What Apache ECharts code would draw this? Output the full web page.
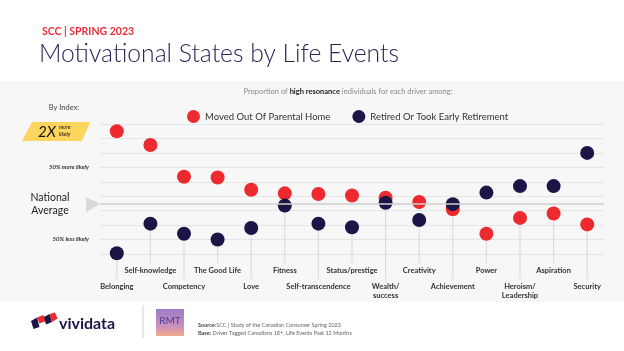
<!DOCTYPE html>
<html>
<head>
<meta charset="utf-8">
<script src="https://cdn.jsdelivr.net/npm/echarts@6/dist/echarts.min.js"></script>
<style>
  html, body { margin: 0; padding: 0; background: #fff; }
  #chart { width: 624px; height: 351px; }
</style>
</head>
<body>
<div id="chart"></div>
<script>
// drivers, left to right (lower labels on even index)
const categories = ['Belonging', 'Self-knowledge', 'Competency', 'The Good Life', 'Love', 'Fitness',
  'Self-transcendence', 'Status/prestige', 'Wealth/\nsuccess', 'Creativity', 'Achievement', 'Power',
  'Heroism/\nLeadership', 'Aspiration', 'Security'];
// index vs national average (100)
const movedOut = [200, 181, 137, 136, 119, 114, 113, 111, 108, 102, 92, 58, 80, 86, 71];
const retired = [31, 72, 58, 50, 66, 97, 72, 67, 101, 77, 99, 115, 124, 124, 170];
const seriesNames = ['Moved Out Of Parental Home', 'Retired Or Took Early Retirement'];
// y axis
const yMin = 30, yMax = 210, yStep = 20, avgIndex = 100;
const sideLabels = { 150: '50% more likely', 50: '50% less likely' };

const RED = '#ec2a2f';
const NAVY = '#1e1547';
const FONT = 'Lato, "Open Sans", sans-serif';

const chart = echarts.init(document.getElementById('chart'));

function dropLine(params, api) {
  const i = api.value(0);
  const low = Math.min(api.value(1), api.value(2));
  const p = api.coord([i, low]);
  const base = api.coord([i, yMin])[1];
  const end = base + (i % 2 ? 9 : 25);
  return {
    type: 'line',
    shape: { x1: p[0], y1: p[1] + 7, x2: p[0], y2: end },
    style: { stroke: '#d9d9d9', lineWidth: 1 }
  };
}

function axisLabels(odd, margin) {
  return {
    type: 'category',
    data: categories,
    position: 'bottom',
    axisLine: { show: false },
    axisTick: { show: false },
    axisLabel: {
      interval: 0,
      margin: margin,
      fontFamily: FONT,
      fontSize: 7.5,
      fontWeight: 'bold',
      color: '#333',
      lineHeight: 9,
      formatter: (v, i) => (i % 2 === (odd ? 1 : 0) ? v : '')
    }
  };
}

const option = {
  backgroundColor: '#fff',
  animation: false,
  textStyle: { fontFamily: FONT },
  grid: { left: 100, right: 20, top: 124, bottom: 97 },
  legend: {
    data: seriesNames,
    left: 182,
    top: 105,
    icon: 'circle',
    itemWidth: 13,
    itemHeight: 13,
    itemGap: 22,
    textStyle: { fontSize: 9.5, color: '#333', fontFamily: FONT }
  },
  xAxis: [axisLabels(true, 12), axisLabels(false, 28)],
  yAxis: {
    type: 'value',
    min: yMin,
    max: yMax,
    interval: yStep,
    axisLine: { show: false },
    axisTick: { show: false },
    splitLine: { lineStyle: { color: '#e6e6e6', width: 1 } },
    axisLabel: {
      margin: 11,
      fontSize: 6,
      fontStyle: 'italic',
      fontWeight: 'bold',
      color: '#333',
      formatter: v => sideLabels[v] || ''
    }
  },
  series: [
    {
      type: 'custom',
      renderItem: dropLine,
      clip: false,
      silent: true,
      z: 1,
      encode: { x: 0, y: [1, 2] },
      data: categories.map((c, i) => [i, movedOut[i], retired[i]])
    },
    {
      name: seriesNames[0],
      type: 'scatter',
      symbolSize: 14,
      itemStyle: { color: RED, opacity: 1 },
      z: 3,
      data: movedOut,
      markLine: {
        silent: true,
        symbol: 'none',
        label: { show: false },
        lineStyle: { color: '#cfcfcf', width: 1.5, type: 'solid' },
        data: [{ yAxis: avgIndex }]
      }
    },
    {
      name: seriesNames[1],
      type: 'scatter',
      symbolSize: 14,
      itemStyle: { color: NAVY, opacity: 1 },
      z: 4,
      data: retired
    }
  ],
  graphic: [
    { type: 'rect', z: -10, silent: true, shape: { x: 0, y: 81, width: 624, height: 221 }, style: { fill: '#f7f7f7' } },
    { type: 'text', x: 42, y: 32, style: { text: 'SCC | SPRING 2023', fill: '#e8303a', font: 'bold 10.5px ' + FONT, verticalAlign: 'middle' } },
    { type: 'text', x: 39, y: 54, style: { text: 'Motivational States by Life Events', fill: '#2b2557', font: '300 24.7px ' + FONT, verticalAlign: 'middle' } },
    {
      type: 'text', x: 348, y: 92,
      style: {
        text: '{n|Proportion of }{b|high resonance}{n| individuals for each driver among:}',
        align: 'center', verticalAlign: 'middle',
        rich: {
          n: { fontSize: 7.5, fill: '#888', fontFamily: FONT },
          b: { fontSize: 7.5, fill: '#222', fontWeight: 'bold', fontFamily: FONT }
        }
      }
    },
    { type: 'text', x: 64, y: 108, style: { text: 'By Index:', fill: '#444', font: '7.5px ' + FONT, align: 'center', verticalAlign: 'middle' } },
    { type: 'polygon', shape: { points: [[32, 122], [90, 122], [82, 141], [22, 141]] }, style: { fill: '#fcd55f' } },
    { type: 'text', x: 47, y: 132, style: { text: '2X', fill: '#111', font: 'italic 15px ' + FONT, align: 'center', verticalAlign: 'middle' } },
    { type: 'text', x: 59, y: 131, style: { text: 'more\nlikely', fill: '#111', font: 'italic 5.5px ' + FONT, lineHeight: 7, verticalAlign: 'middle' } },
    { type: 'text', x: 50, y: 204, style: { text: 'National\nAverage', fill: '#222', font: '10.5px ' + FONT, lineHeight: 13.5, align: 'center', verticalAlign: 'middle' } },
    { type: 'polygon', shape: { points: [[86, 197], [100, 204], [86, 212]] }, style: { fill: '#d9d9d9' } },
    // footer
    { type: 'polygon', shape: { points: [[31, 321], [37, 317.5], [39.5, 327], [33.5, 329]] }, style: { fill: NAVY } },
    { type: 'polygon', shape: { points: [[37, 317.5], [43.5, 315], [46, 321], [39.5, 323.5]] }, style: { fill: RED } },
    { type: 'polygon', shape: { points: [[44, 317], [49.5, 314], [52, 322], [46, 324.5]] }, style: { fill: NAVY } },
    { type: 'polygon', shape: { points: [[49.5, 314], [55, 312.5], [57.5, 318.5], [52, 322]] }, style: { fill: RED } },
    { type: 'text', x: 59, y: 324, style: { text: 'vividata', fill: NAVY, font: 'bold 16px ' + FONT, verticalAlign: 'middle' } },
    { type: 'line', shape: { x1: 143, y1: 305, x2: 143, y2: 338 }, style: { stroke: '#d0d0d0', lineWidth: 1 } },
    {
      type: 'rect', shape: { x: 156, y: 309, width: 28, height: 27 },
      style: {
        fill: new echarts.graphic.LinearGradient(0, 0, 0, 1, [
          { offset: 0, color: '#9a7cc4' }, { offset: 0.6, color: '#c98fc0' }, { offset: 1, color: '#f0a98a' }
        ])
      }
    },
    { type: 'text', x: 170, y: 321, style: { text: 'RMT', fill: '#4a3b8e', font: '10px ' + FONT, align: 'center', verticalAlign: 'middle' } },
    {
      type: 'text', x: 198, y: 329,
      style: {
        text: '{b|Source:}{n|SCC | Study of the Canadian Consumer Spring 2023}\n{b|Base:}{n| Driver Tagged Canadians 18+, Life Events Past 12 Months}',
        verticalAlign: 'middle', lineHeight: 7.5,
        rich: {
          b: { fontSize: 5.5, fill: '#444', fontWeight: 'bold', fontFamily: FONT, lineHeight: 7.5 },
          n: { fontSize: 5.5, fill: '#666', fontFamily: FONT, lineHeight: 7.5 }
        }
      }
    }
  ]
};

chart.setOption(option);
</script>
</body>
</html>
